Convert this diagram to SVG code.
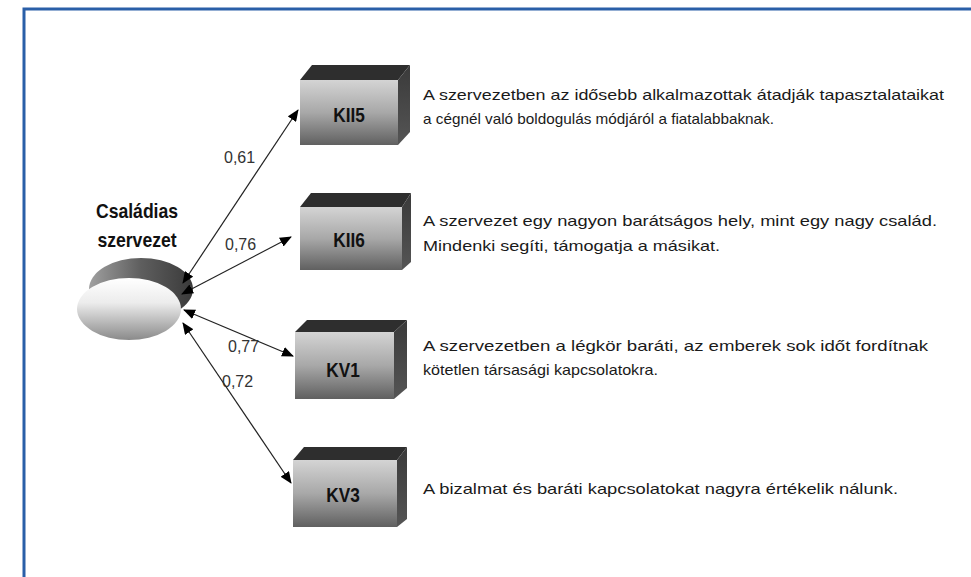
<svg xmlns="http://www.w3.org/2000/svg" width="971" height="577" viewBox="0 0 971 577">
  <style>
    .frame { fill: none; stroke: #2a5fa8; stroke-width: 3; }
    .title { font-family: "Liberation Sans", Arial, sans-serif; font-weight: bold; font-size: 20px; fill: #111; text-anchor: middle; }
    .code { font-family: "Liberation Sans", Arial, sans-serif; font-weight: bold; font-size: 21px; fill: #111; text-anchor: middle; }
    .desc { font-family: "Liberation Sans", Arial, sans-serif; font-size: 15px; fill: #1a1a1a; }
    .coef { font-family: "Liberation Sans", Arial, sans-serif; font-size: 16px; fill: #333; }
    .link { stroke: #222; stroke-width: 1.2; fill: none; marker-start: url(#head); marker-end: url(#head); }
    .top { fill: #2e2e2e; }
    .side { fill: url(#sideGrad); }
    .front { fill: url(#frontGrad); }
  </style>
  <defs>
    <marker id="head" viewBox="0 0 12 10" refX="11" refY="5" markerWidth="12" markerHeight="10" markerUnits="userSpaceOnUse" orient="auto-start-reverse">
      <path d="M0,0 L12,5 L0,10 Z" fill="#000"/>
    </marker>
    <linearGradient id="frontGrad" x1="0" y1="0" x2="0" y2="1">
      <stop offset="0" stop-color="#d4d4d4"/>
      <stop offset="0.5" stop-color="#a8a8a8"/>
      <stop offset="1" stop-color="#606060"/>
    </linearGradient>
    <linearGradient id="sideGrad" x1="0" y1="0" x2="0" y2="1">
      <stop offset="0" stop-color="#3a3a3a"/>
      <stop offset="1" stop-color="#555"/>
    </linearGradient>
    <linearGradient id="discFront" x1="0" y1="0" x2="0" y2="1">
      <stop offset="0" stop-color="#ffffff"/>
      <stop offset="0.4" stop-color="#ececec"/>
      <stop offset="1" stop-color="#8a8a8a"/>
    </linearGradient>
    <linearGradient id="discBack" x1="0" y1="0" x2="1" y2="0">
      <stop offset="0" stop-color="#a0a0a0"/>
      <stop offset="0.5" stop-color="#5e5e5e"/>
      <stop offset="1" stop-color="#3a3a3a"/>
    </linearGradient>
  </defs>

  <rect width="971" height="577" fill="#fff"/>
  <!-- outer frame, open toward the right and bottom -->
  <path class="frame" d="M24,577 L24,9 L971,9"/>

  <!-- latent factor -->
  <g id="csaladias">
    <text class="title" transform="translate(137,218) scale(0.88,1)">Családias</text>
    <text class="title" transform="translate(137,247) scale(0.88,1)">szervezet</text>
    <ellipse cx="141" cy="289" rx="52" ry="31" fill="url(#discBack)"/>
    <ellipse cx="129" cy="309" rx="52" ry="31" fill="url(#discFront)"/>
  </g>

  <!-- connectors -->
  <g id="connectors">
    <line class="link" x1="183" y1="283" x2="298" y2="110"/>
    <line class="link" x1="182" y1="294" x2="291" y2="237"/>
    <line class="link" x1="184" y1="310" x2="293" y2="356"/>
    <line class="link" x1="183" y1="323" x2="291" y2="483"/>
    <text class="coef" x="224" y="163">0,61</text>
    <text class="coef" x="225" y="250">0,76</text>
    <text class="coef" x="228" y="352">0,77</text>
    <text class="coef" x="222" y="387">0,72</text>
  </g>

  <!-- indicator KII5 -->
  <g id="kii5">
    <polygon class="top" points="300,80 312,65 410,65 398,80"/>
    <polygon class="side" points="398,80 410,65 410,132 398,145"/>
    <rect class="front" x="300" y="80" width="98" height="65"/>
    <text class="code" transform="translate(349,122) scale(0.82,1)">KII5</text>
    <text class="desc" x="423" y="100" textLength="521" lengthAdjust="spacingAndGlyphs">A szervezetben az idősebb alkalmazottak átadják tapasztalataikat</text>
    <text class="desc" x="423" y="124" textLength="351" lengthAdjust="spacingAndGlyphs">a cégnél való boldogulás módjáról a fiatalabbaknak.</text>
  </g>

  <!-- indicator KII6 -->
  <g id="kii6">
    <polygon class="top" points="300,207 311,193 411,193 402,207"/>
    <polygon class="side" points="402,207 411,193 411,262 402,270"/>
    <rect class="front" x="300" y="207" width="102" height="63"/>
    <text class="code" transform="translate(349,247) scale(0.82,1)">KII6</text>
    <text class="desc" x="423" y="226" textLength="514" lengthAdjust="spacingAndGlyphs">A szervezet egy nagyon barátságos hely, mint egy nagy család.</text>
    <text class="desc" x="423" y="251" textLength="297" lengthAdjust="spacingAndGlyphs">Mindenki segíti, támogatja a másikat.</text>
  </g>

  <!-- indicator KV1 -->
  <g id="kv1">
    <polygon class="top" points="295,332 307,320 407,320 394,332"/>
    <polygon class="side" points="394,332 407,320 407,388 394,399"/>
    <rect class="front" x="295" y="332" width="99" height="67"/>
    <text class="code" transform="translate(343,377) scale(0.82,1)">KV1</text>
    <text class="desc" x="423" y="351" textLength="505" lengthAdjust="spacingAndGlyphs">A szervezetben a légkör baráti, az emberek sok időt fordítnak</text>
    <text class="desc" x="423" y="375" textLength="235" lengthAdjust="spacingAndGlyphs">kötetlen társasági kapcsolatokra.</text>
  </g>

  <!-- indicator KV3 -->
  <g id="kv3">
    <polygon class="top" points="293,460 304,447 407,447 397,460"/>
    <polygon class="side" points="397,460 407,447 407,519 397,527"/>
    <rect class="front" x="293" y="460" width="104" height="67"/>
    <text class="code" transform="translate(343,502) scale(0.82,1)">KV3</text>
    <text class="desc" x="423" y="494" textLength="475" lengthAdjust="spacingAndGlyphs">A bizalmat és baráti kapcsolatokat nagyra értékelik nálunk.</text>
  </g>
</svg>
